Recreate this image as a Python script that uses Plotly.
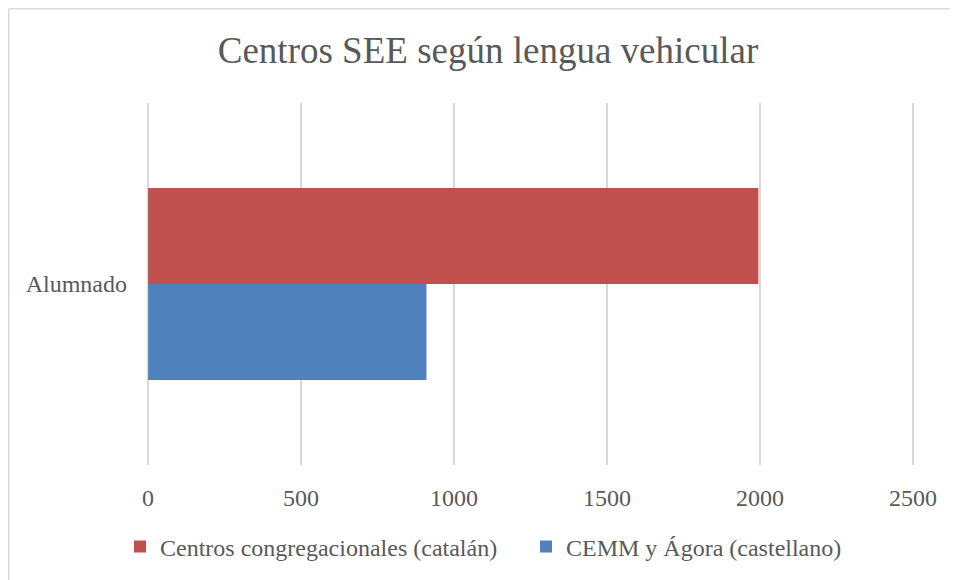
import plotly.graph_objects as go

categories = ["Alumnado"]
series_names = ["CEMM y Ágora (castellano)", "Centros congregacionales (catalán)"]
series_values = [[910], [1995]]
series_colors = ["#4F81BD", "#C0504D"]
x_ticks = [0, 500, 1000, 1500, 2000, 2500]

FONT = "Liberation Serif, Times New Roman, serif"
GRAY = "#595959"

fig = go.Figure()
for name, vals, col in zip(series_names, series_values, series_colors):
    fig.add_trace(go.Bar(y=categories, x=vals, name=name, orientation="h",
                         marker=dict(color=col, line=dict(width=0))))

# page has an 8px body margin; figure coordinates are offset accordingly
W, H = 950, 572
L, R, T, B = 134, 39, 95, 115
pw = W - L - R
ph = H - T - B

fig.update_layout(
    width=W, height=H,
    margin=dict(l=L, r=R, t=T, b=B, autoexpand=False),
    paper_bgcolor="white", plot_bgcolor="white",
    barmode="group", bargap=0.47, bargroupgap=0,
    font=dict(family=FONT, color=GRAY, size=24),
    title=dict(text="Centros SEE según lengua vehicular", x=480 / W, xanchor="center",
               y=1 - 42 / H, yanchor="middle",
               font=dict(family=FONT, size=37, color=GRAY)),
    xaxis=dict(range=[-20, 2520], tickvals=x_ticks, showgrid=True, gridcolor="#D9D9D9",
               gridwidth=1.5, zeroline=False, showline=False, ticks="",
               ticklabelstandoff=16, tickfont=dict(size=24, color=GRAY)),
    yaxis=dict(showgrid=False, zeroline=False, showline=False, ticks="",
               ticklabelstandoff=14, tickfont=dict(size=24, color=GRAY)),
    legend=dict(orientation="h", traceorder="reversed", x=(117 - 5 - L) / pw,
                xanchor="left", y=-82 / ph, yanchor="middle",
                font=dict(size=24, color=GRAY), itemwidth=30, entrywidth=361,
                bgcolor="rgba(0,0,0,0)"),
    showlegend=True,
)

# outer chart border (left and top edges visible)
bx = (0.75 - L) / pw
by = (H - B - 0.75) / ph
fig.add_shape(type="line", xref="paper", yref="paper", x0=bx, x1=bx, y0=by, y1=-2,
              line=dict(color="#D9D9D9", width=1.5))
fig.add_shape(type="line", xref="paper", yref="paper", x0=bx, x1=2, y0=by, y1=by,
              line=dict(color="#D9D9D9", width=1.5))

fig.write_html("out.html", config={"displayModeBar": False})
